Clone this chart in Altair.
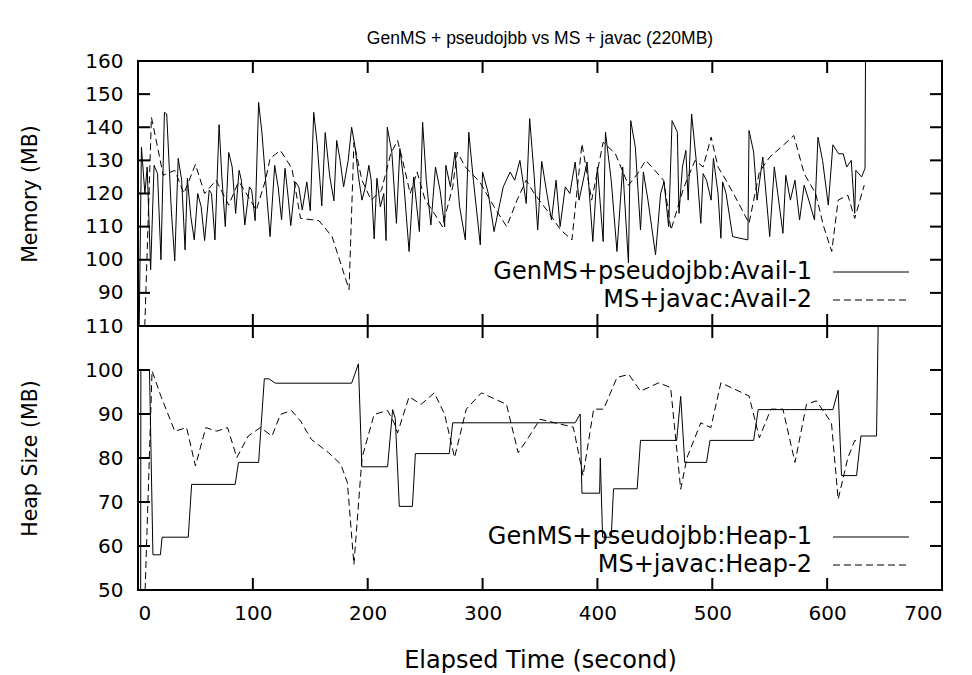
import altair as alt
import pandas as pd

TITLE = "GenMS + pseudojbb vs MS + javac (220MB)"
X_TITLE = "Elapsed Time (second)"
Y1_TITLE = "Memory (MB)"
Y2_TITLE = "Heap Size (MB)"

x_ticks = [0, 100, 200, 300, 400, 500, 600, 700]
y1_ticks = [90, 100, 110, 120, 130, 140, 150, 160]
y2_ticks = [50, 60, 70, 80, 90, 100, 110]

legend_top = ["GenMS+pseudojbb:Avail-1", "MS+javac:Avail-2"]
legend_bottom = ["GenMS+pseudojbb:Heap-1", "MS+javac:Heap-2"]

avail1_t = [1, 3, 6, 8, 11, 14, 17, 20, 23, 25, 29, 32, 35, 38, 41, 43, 46, 49, 52, 55, 58, 62, 64, 67,
            70.6, 73, 76, 79, 82, 85, 88, 90, 93, 97, 99, 102, 105, 108, 112, 115, 119, 122, 125, 128,
            131, 133, 137, 140, 143, 147, 150, 153, 156, 160, 163, 167, 170.6, 173, 176, 179, 183, 186,
            189, 192, 195, 198, 201, 203, 205.6, 208, 211, 214, 216, 217, 221, 225, 228, 231, 236, 240,
            245, 247.8, 251, 255, 259, 263, 267, 268, 272, 276, 280, 285, 288, 292, 298, 300, 305, 310,
            318, 324, 328, 332.5, 338, 341, 345, 348, 351.5, 356, 360, 364, 367.5, 372, 376, 380.6, 384,
            391, 396, 400, 405, 407, 412, 417, 422, 427, 429, 433, 437.5, 440, 444, 450.6, 455, 458, 462,
            465, 469.6, 471, 474, 477, 479, 482, 486, 490, 492, 495, 499, 501, 505, 507.5, 509, 512,
            517.7, 524, 531, 532, 536, 539, 544, 547, 550, 554, 557, 561.5, 564, 568, 572, 576, 580, 584,
            589, 592, 596, 601, 605, 610, 614, 617, 621, 624, 625, 630, 633, 633.5]
avail1_v = [78, 134, 120, 128, 97, 128.5, 126, 100, 144.5, 144, 115, 99.7, 130.6, 124, 103, 124.6, 113,
            106, 120, 116, 105.8, 121, 120, 106, 140.8, 125, 110, 132.4, 128, 114, 127, 124, 110.5, 122,
            121, 111.8, 147.5, 138, 120, 107, 128.5, 122, 112, 127.6, 118, 110.3, 123.5, 122, 115, 123.5,
            114.8, 144.5, 135, 116.3, 138.4, 125, 117.8, 136, 130, 122, 130, 140, 134, 125, 118, 122,
            128.5, 124, 106.3, 124.6, 116, 120, 105.8, 140, 132.5, 111, 133.6, 125, 102.5, 125, 108.5,
            141.5, 124, 110.5, 128, 121, 110, 128.5, 122, 132.5, 116, 106, 138.5, 124, 104.5, 126.5, 120,
            108.5, 122, 126.5, 124, 130, 117, 142.6, 125, 109, 129.7, 120, 112, 124, 110, 122, 120, 129.5,
            118, 129.5, 105.5, 128, 105.5, 138.5, 124, 102.5, 128, 99, 142, 134, 109, 126.5, 118, 101.5,
            120, 123.5, 110, 142, 138.5, 114, 128, 133, 118, 144, 130, 111, 126, 124, 118, 130.6, 120,
            106.5, 123.5, 120, 107, 106.5, 106, 139, 132.5, 118, 131, 119, 107, 128, 120, 108, 125.5, 118,
            124, 112, 122.5, 118, 112, 137, 130, 116.5, 134.7, 132, 132, 128, 130, 114, 127, 125, 127.6,
            170]

avail2_t = [5, 11.7, 22, 32, 40, 50, 58, 68, 79, 87.5, 89, 103, 111, 115, 124, 134, 141.5, 157.5, 169,
            183.75, 188, 195, 203, 212, 220, 226, 230, 237, 243, 250, 258, 265, 274, 278, 285, 297.5,
            310, 321, 330, 338, 345, 357, 368, 377.8, 386.5, 395, 405, 415.6, 427, 435, 442, 450, 457.6,
            462, 464, 475, 485, 492, 499, 505, 512, 520, 532, 541, 550, 560, 571, 580, 590, 597, 604,
            609.6, 618, 624, 632.3]
avail2_v = [70, 143, 125.5, 127, 120, 128.8, 120, 124, 116.5, 123.5, 123, 115, 124, 130.6, 133, 127.6,
            112.5, 111.8, 107, 91, 135.4, 124, 118, 121, 132, 136, 130.6, 120, 126.5, 118, 114, 110, 122,
            132.5, 128, 123.5, 116, 110, 118, 124, 120, 114.5, 109, 106, 135, 118, 135.5, 132, 122.5, 126,
            130, 127, 124, 114, 109, 121.6, 130, 128, 137, 128, 124, 119, 111, 126.5, 131, 134, 137.5, 126,
            120, 110, 102.5, 118, 119.5, 112.5, 122.5]

heap1_t = [2.3, 2.5, 10, 13, 19.5, 21, 43.75, 46.7, 84.6, 87.5, 105, 110, 114, 119.6, 186, 191.9, 194.9,
           217.3, 221.7, 224, 227.5, 238.9, 241.5, 271, 274, 380.6, 385, 386.5, 401.9, 402.5, 404.5, 412,
           414, 434.6, 437.5, 469, 472.5, 476, 495, 498, 536, 540, 605, 609.6, 612.5, 625.6, 629.4, 643,
           645]
heap1_v = [40, 100, 100, 58, 58, 62, 62, 74, 74, 79, 79, 98, 98, 97, 97, 101.4, 78, 78, 91, 89, 69, 69,
           81, 81, 88, 88, 90, 72, 72, 80, 62, 62, 73, 73, 84, 84, 94, 79, 79, 84, 84, 91, 91, 95.4, 76,
           76, 85, 85, 120]

heap2_t = [5, 12.25, 20, 32, 42.3, 50, 59, 68.5, 78, 86, 96, 106.5, 116.7, 124, 133.6, 141.5, 151, 166,
           176.5, 182.3, 188, 195, 205.6, 217.3, 223, 226, 236, 246.5, 258, 267, 275.6, 285.8, 299, 320.8,
           331, 339.8, 350, 379, 387.5, 396.7, 405.4, 417, 427.3, 437.5, 453.5, 463.75, 472.5, 478, 490,
           498.75, 507.5, 532, 541, 551, 561.5, 572, 582, 590.6, 603.75, 609.6, 618, 624, 628.5]
heap2_v = [40, 99.8, 94, 86.1, 86.9, 78.2, 86.9, 86.1, 86.9, 80.1, 85, 86.9, 85, 89.9, 90.8, 88.4, 84.2,
           81.2, 78.6, 74.4, 55.8, 80, 89.9, 90.8, 88, 85.7, 93.9, 92.2, 94.8, 89.9, 80.1, 91.1, 94.8,
           92.2, 81.2, 84.6, 88.8, 87, 76, 91.1, 91.1, 98.3, 99, 95.2, 97.1, 96, 72.9, 80.1, 88, 86.9,
           97.1, 94.1, 84.6, 91.1, 91.1, 79, 92.2, 93, 88, 70.6, 80, 84, 83.6]

FONT = "DejaVu Sans"
TITLE_FONT = "Liberation Sans"
W = 804
H1 = 265
H2 = 264
TICK = 12
DASH = [7, 4]

xscale = alt.Scale(domain=[0, 700], nice=False, zero=False)
y1scale = alt.Scale(domain=[80, 160], nice=False, zero=False)
y2scale = alt.Scale(domain=[50, 110], nice=False, zero=False)


def series(t, v):
    return pd.DataFrame({"t": t, "v": v, "i": list(range(len(t)))})


def panel(s1, s2, yscale, yticks, ytitle, H, legend, show_x):
    if show_x:
        xaxis = alt.Axis(values=x_ticks, title=X_TITLE, labelPadding=13, titlePadding=25,
                         labelFontSize=20, titleFontSize=24)
    else:
        xaxis = None
    yaxis = alt.Axis(values=yticks, title=ytitle, labelPadding=15, titlePadding=44,
                     labelFontSize=20, titleFontSize=20.5)
    X = alt.X("t:Q", scale=xscale, axis=xaxis)
    Y = alt.Y("v:Q", scale=yscale, axis=yaxis)

    solid = alt.Chart(series(*s1)).mark_line(color="black", strokeWidth=1, clip=True).encode(
        x=X, y=Y, order="i:Q")
    dashed = alt.Chart(series(*s2)).mark_line(color="black", strokeWidth=1, strokeDash=DASH,
                                              clip=True).encode(x=X, y=Y, order="i:Q")

    dfx = pd.DataFrame({"t": x_ticks})
    dfy = pd.DataFrame({"v": yticks})
    rx = alt.Chart(dfx).mark_rule(color="black", strokeWidth=2)
    ry = alt.Chart(dfy).mark_rule(color="black", strokeWidth=2)
    tick_layers = [
        rx.encode(x=X, y=alt.value(0), y2=alt.value(TICK)),
        rx.encode(x=X, y=alt.value(H - TICK), y2=alt.value(H)),
        ry.encode(y=Y, x=alt.value(0), x2=alt.value(TICK)),
        ry.encode(y=Y, x=alt.value(W - TICK), x2=alt.value(W)),
    ]

    ly = [211, 239]
    leg_layers = []
    for k, lab in enumerate(legend):
        d = pd.DataFrame({"label": [lab]})
        leg_layers.append(alt.Chart(d).mark_text(align="right", baseline="middle", font=FONT,
                                                 fontSize=24, color="black").encode(
            text="label:N", x=alt.value(674), y=alt.value(ly[k])))
        rule = alt.Chart(d).mark_rule(color="black", strokeWidth=1,
                                      **({"strokeDash": DASH} if k == 1 else {}))
        leg_layers.append(rule.encode(x=alt.value(695), x2=alt.value(771), y=alt.value(ly[k])))

    return alt.layer(solid, dashed, *tick_layers, *leg_layers).properties(width=W, height=H)


top = panel((avail1_t, avail1_v), (avail2_t, avail2_v), y1scale, y1_ticks, Y1_TITLE, H1,
            legend_top, False).properties(
    title=alt.Title(TITLE, font=TITLE_FONT, fontSize=17.5, fontWeight="normal", anchor="middle",
                    frame="group", offset=4, color="black"))
bottom = panel((heap1_t, heap1_v), (heap2_t, heap2_v), y2scale, y2_ticks, Y2_TITLE, H2,
               legend_bottom, True)

chart = alt.vconcat(top, bottom, spacing=0, bounds="flush").properties(
    padding={"left": 11, "top": 20, "right": 5, "bottom": 5}
).configure_view(stroke="black", strokeWidth=2).configure_axis(
    labelFont=FONT, titleFont=FONT, titleFontWeight="normal",
    labelColor="black", titleColor="black", domain=False, grid=False, tickSize=0
)

chart.save("out.html", embed_options={"renderer": "svg", "actions": False})
